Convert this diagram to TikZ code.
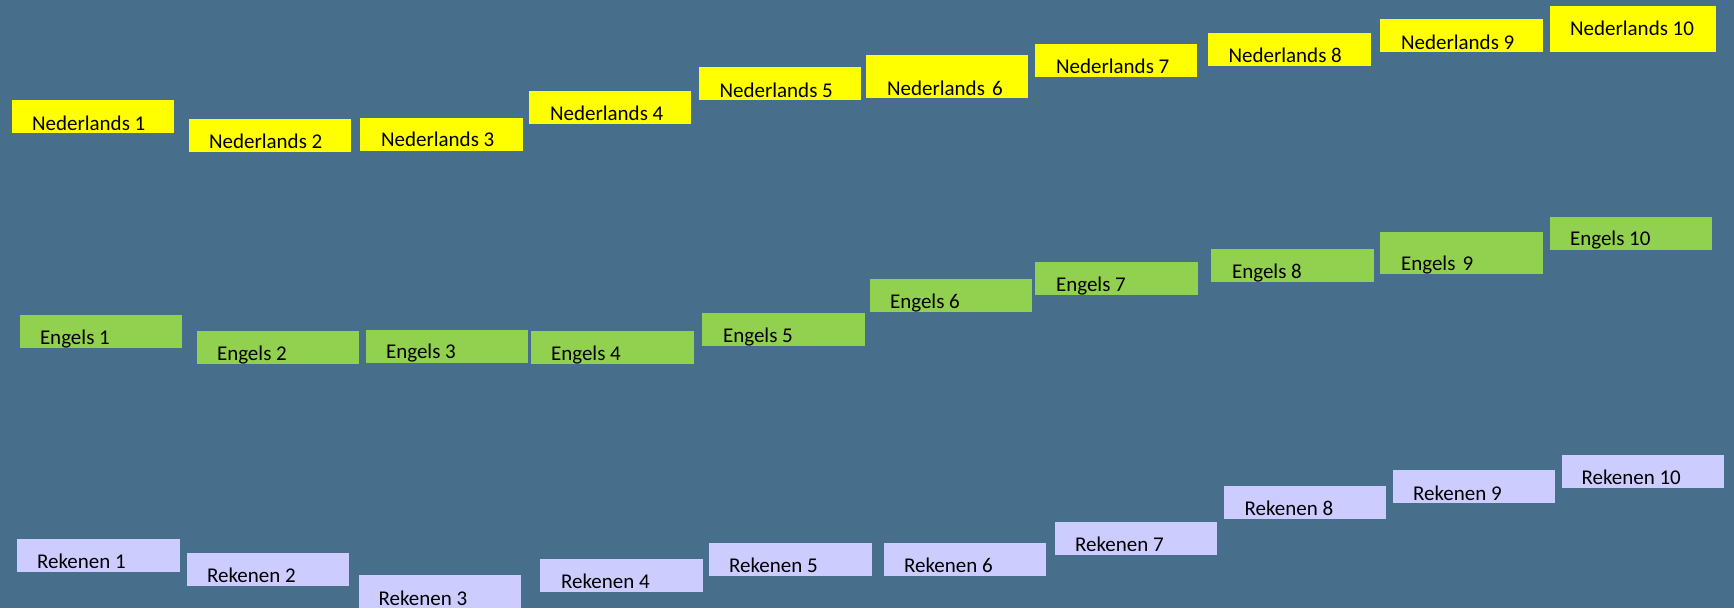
\documentclass[tikz,border=0pt]{standalone}
\usepackage{fontspec}
\setmainfont{Carlito}
\definecolor{bg}{RGB}{71,110,138}
\definecolor{ny}{RGB}{255,255,0}
\definecolor{eg}{RGB}{146,208,80}
\definecolor{rl}{RGB}{204,204,255}
\tikzset{
  boxbase/.style={anchor=north west, inner sep=0pt, outer sep=0pt, draw=none},
  ned/.style={boxbase, fill=ny},
  eng/.style={boxbase, fill=eg},
  rek/.style={boxbase, fill=rl},
  lbl/.style={anchor=base west, inner sep=0pt, outer sep=0pt, text=black,
              font=\fontsize{21}{25}\selectfont}
}
% name, x1, y1, x2, y2, style, tx, ty, text
\newcommand{\bx}[9]{%
  \node[#6, minimum width={(#4-#2)*1pt}, minimum height={(#5-#3)*1pt}] (#1) at (#2,#3) {};
  \node[lbl] (#1t) at (#7,#8) {#9};
}
\begin{document}
\begin{tikzpicture}[x=1pt,y=-1pt]
\fill[bg] (0,0) rectangle (1734,608);
\useasboundingbox (0,0) rectangle (1734,608);
% Nederlands
\bx{n1}{12}{100}{174}{133}{ned}{32}{130}{Nederlands 1}
\bx{n2}{189}{119}{351}{152}{ned}{209}{148.3}{Nederlands 2}
\bx{n3}{360}{118}{523}{151}{ned}{381}{146.7}{Nederlands 3}
\bx{n4}{529}{91}{691}{124}{ned}{550}{120.3}{Nederlands 4}
\bx{n5}{699}{67}{861}{100}{ned}{719.5}{97}{Nederlands 5}
\bx{n6}{866}{55}{1028}{98}{ned}{887}{95.3}{Nederlands\hspace{2.5pt} 6}
\bx{n7}{1035}{44}{1197}{77}{ned}{1056}{73.7}{Nederlands 7}
\bx{n8}{1208}{33}{1371}{66}{ned}{1228.5}{62}{Nederlands 8}
\bx{n9}{1380}{19}{1543}{52}{ned}{1401}{49}{Nederlands 9}
\bx{n10}{1550}{6}{1716}{52}{ned}{1570}{35.7}{Nederlands 10}
% Engels
\bx{e1}{20}{315}{182}{348}{eng}{40}{344.3}{Engels 1}
\bx{e2}{197}{331}{359}{364}{eng}{217}{360.3}{Engels 2}
\bx{e3}{366}{330}{528}{363}{eng}{386}{358.7}{Engels 3}
\bx{e4}{531}{331}{694}{364}{eng}{551}{360.3}{Engels 4}
\bx{e5}{702}{313}{865}{346}{eng}{723}{342.3}{Engels 5}
\bx{e6}{870}{279}{1032}{312}{eng}{890}{308.3}{Engels 6}
\bx{e7}{1035}{262}{1198}{295}{eng}{1056}{291.3}{Engels 7}
\bx{e8}{1211}{249}{1374}{282}{eng}{1232}{278.3}{Engels 8}
\bx{e9}{1380}{232}{1543}{274}{eng}{1401}{270.7}{Engels\hspace{2.5pt} 9}
\bx{e10}{1550}{217}{1712}{250}{eng}{1570}{245}{Engels 10}
% Rekenen
\bx{r1}{17}{539}{180}{572}{rek}{37}{568.7}{Rekenen 1}
\bx{r2}{187}{553}{349}{586}{rek}{207}{582.3}{Rekenen 2}
\bx{r3}{359}{575}{521}{608}{rek}{378.5}{605}{Rekenen 3}
\bx{r4}{540}{559}{703}{592}{rek}{561}{588.7}{Rekenen 4}
\bx{r5}{709}{543}{872}{576}{rek}{729}{572.7}{Rekenen 5}
\bx{r6}{884}{543}{1046}{576}{rek}{904}{572.7}{Rekenen 6}
\bx{r7}{1055}{522}{1217}{555}{rek}{1075}{551.7}{Rekenen 7}
\bx{r8}{1224}{486}{1386}{519}{rek}{1244.5}{515.7}{Rekenen 8}
\bx{r9}{1393}{470}{1555}{503}{rek}{1413}{500}{Rekenen 9}
\bx{r10}{1562}{455}{1724}{488}{rek}{1581.5}{484.7}{Rekenen 10}
\end{tikzpicture}
\end{document}
